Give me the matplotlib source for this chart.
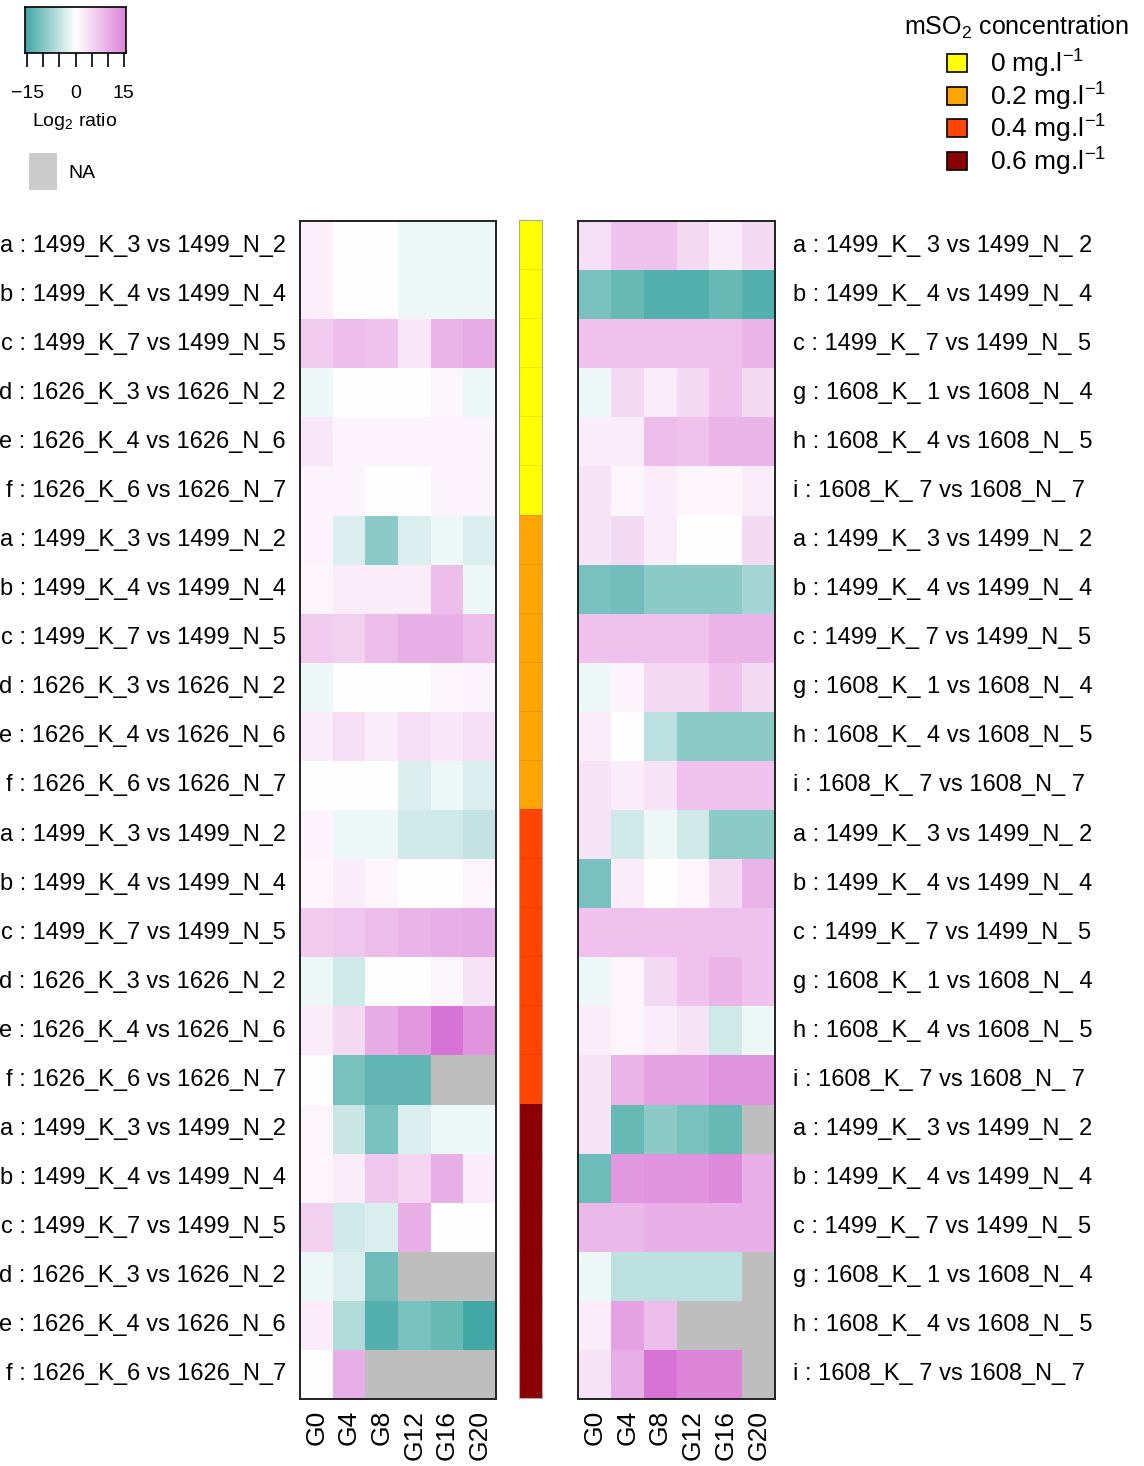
import numpy as np
import matplotlib
matplotlib.use("Agg")
import matplotlib.pyplot as plt
from matplotlib.colors import LinearSegmentedColormap, ListedColormap
from matplotlib.patches import Rectangle

plt.rcParams["font.family"] = ["Liberation Sans", "DejaVu Sans"]
plt.rcParams["mathtext.fontset"] = "custom"
plt.rcParams["mathtext.rm"] = "Liberation Sans"
plt.rcParams["mathtext.it"] = "Liberation Sans:italic"
plt.rcParams["mathtext.bf"] = "Liberation Sans:bold"

# =============================
# Dados
# =============================
colunas = ["G0", "G4", "G8", "G12", "G16", "G20"]

rotulos_esq = ["a : 1499_K_3 vs 1499_N_2", "b : 1499_K_4 vs 1499_N_4", "c : 1499_K_7 vs 1499_N_5",
               "d : 1626_K_3 vs 1626_N_2", "e : 1626_K_4 vs 1626_N_6", "f : 1626_K_6 vs 1626_N_7"] * 4
rotulos_dir = ["a : 1499_K_ 3 vs 1499_N_ 2", "b : 1499_K_ 4 vs 1499_N_ 4", "c : 1499_K_ 7 vs 1499_N_ 5",
               "g : 1608_K_ 1 vs 1608_N_ 4", "h : 1608_K_ 4 vs 1608_N_ 5", "i : 1608_K_ 7 vs 1608_N_ 7"] * 4

concentracoes = ["0 mg.l$^{-1}$", "0.2 mg.l$^{-1}$", "0.4 mg.l$^{-1}$", "0.6 mg.l$^{-1}$"]
cores_conc = ["#ffff00", "#ffa500", "#ff4500", "#8b0000"]
nivel_conc = [0] * 6 + [1] * 6 + [2] * 6 + [3] * 6

na = np.nan
valores_esq = [
    # 0 mg/l
    [1.5, 0, 0, -1.5, -1.5, -1.5],
    [1.5, 0, 0, -1.5, -1.5, -1.5],
    [5.5, 7, 6.5, 2.5, 8, 9],
    [-1.5, 0, 0, 0, 1, -1.5],
    [2.5, 1.2, 1.2, 1.2, 1.2, 1.2],
    [1.2, 1.2, 0, 0, 1.2, 1.2],
    # 0.2 mg/l
    [1.2, -3, -9.5, -3, -1.5, -3],
    [1, 2, 2, 2, 7, -1.5],
    [5.5, 5, 7, 8.5, 8.5, 7],
    [-1.5, 0, 0, 0, 1, 1.2],
    [2, 3.5, 2, 3.5, 2.5, 3.5],
    [0, 0, 0, -3, -1.5, -3],
    # 0.4 mg/l
    [1.2, -1.5, -1.5, -4, -4, -5],
    [0.8, 2, 1, 0, 0, 1],
    [5.5, 6, 7, 8, 8.5, 9],
    [-1.5, -4, 0, 0, 1, 3],
    [2, 4, 9, 11, 15, 11.5],
    [0, -11, -13, -13, na, na],
    # 0.6 mg/l
    [1, -4.5, -11, -3, -1.5, -1.5],
    [1, 2, 6, 4.5, 8.5, 2],
    [5, -4, -3, 8.5, 0, 0],
    [-1.5, -3, -12, na, na, na],
    [2, -6.5, -14, -11, -12.5, -15.5],
    [0, 8.5, na, na, na, na],
]

valores_dir = [
    # 0 mg/l
    [3.5, 6.5, 6.5, 4, 2, 4],
    [-11, -12.5, -14, -14, -12.5, -14],
    [6.5, 6.5, 6.5, 6.5, 6.5, 8],
    [-1.5, 4, 2, 4, 6.5, 4],
    [2, 2, 7, 6.5, 8, 8],
    [3, 1, 2, 1, 1, 2],
    # 0.2 mg/l
    [3, 4, 2, 0, 0, 4],
    [-11, -11.5, -9.5, -9.5, -9.5, -7.5],
    [6.5, 6.5, 6.5, 6.5, 8, 8],
    [-1.5, 1.2, 4, 4, 6.5, 4],
    [2, 0, -5.5, -9.5, -9.5, -9.5],
    [3, 2, 3, 6.5, 6.5, 6.5],
    # 0.4 mg/l
    [3, -4, -1.5, -4, -9.5, -9.5],
    [-11, 2, 0, 1, 4, 8],
    [6.5, 6.5, 6.5, 6.5, 6.5, 6.5],
    [-1.5, 1, 4, 6.5, 8, 6.5],
    [2, 1, 2, 3, -4, -1.5],
    [3, 8, 10, 10, 11.5, 11.5],
    # 0.6 mg/l
    [3, -12.5, -9.5, -11, -12.5, na],
    [-12, 11, 11.5, 11.5, 12.5, 8.5],
    [7.5, 7.5, 8.5, 8.5, 8.5, 8.5],
    [-1.5, -5.5, -5.5, -5.5, -5.5, na],
    [2, 10, 7, na, na, na],
    [3, 8.5, 15, 13, 13, na],
]

# =============================
# Cores
# =============================
cmap = LinearSegmentedColormap.from_list("log2", ["#3ca5a2", "#ffffff", "#d56bd1"])
cmap.set_bad("#bebebe")
vmin, vmax = -16, 16

W, H = 1144, 1466
fig = plt.figure(figsize=(W / 100, H / 100), dpi=100)


def caixa(x0, y0, x1, y1):
    # converte pixels (origem no topo) para coordenadas da figura
    return [x0 / W, 1 - y1 / H, (x1 - x0) / W, (y1 - y0) / H]


def desenhar_heatmap(ax, valores, rotulos, lado):
    dados = np.ma.masked_invalid(np.array(valores, dtype=float))
    ax.pcolormesh(dados, cmap=cmap, vmin=vmin, vmax=vmax)
    ax.set_xlim(0, len(colunas))
    ax.set_ylim(len(rotulos), 0)
    ax.set_xticks(np.arange(len(colunas)) + 0.5)
    ax.set_xticklabels(colunas, rotation=90, fontsize=19)
    ax.set_yticks(np.arange(len(rotulos)) + 0.5)
    ax.set_yticklabels(rotulos, fontsize=17)
    ax.tick_params(length=0)
    ax.tick_params(axis="x", pad=8)
    if lado == "right":
        ax.yaxis.tick_right()
        ax.tick_params(axis="y", pad=13)
    else:
        ax.tick_params(axis="y", pad=10)
    for tk in ax.yaxis.get_major_ticks():
        tk.label1.set_verticalalignment("center")
        tk.label2.set_verticalalignment("center")
    for s in ax.spines.values():
        s.set_linewidth(1.4)
        s.set_color("#222222")


ax_esq = fig.add_axes(caixa(300, 221, 496, 1399))
desenhar_heatmap(ax_esq, valores_esq, rotulos_esq, "left")

ax_dir = fig.add_axes(caixa(578, 221, 775, 1399))
desenhar_heatmap(ax_dir, valores_dir, rotulos_dir, "right")

# barra de concentracao
ax_c = fig.add_axes(caixa(519, 220, 542, 1398))
ax_c.pcolormesh(np.array(nivel_conc).reshape(-1, 1), cmap=ListedColormap(cores_conc),
                vmin=-0.5, vmax=3.5, edgecolors="#00000018", linewidth=0.6)
ax_c.set_ylim(len(nivel_conc), 0)
ax_c.set_xticks([])
ax_c.set_yticks([])
for s in ax_c.spines.values():
    s.set_linewidth(0.8)
    s.set_color("#aaaaaa")

# =============================
# Legenda Log2 ratio
# =============================
ax_leg = fig.add_axes(caixa(25, 7, 126, 53))
grad = np.linspace(-15.75, 15.75, 256).reshape(1, -1)
cmap_leg = LinearSegmentedColormap.from_list("leg", ["#3fa6a3", "#ffffff", "#dc84d8"])
ax_leg.imshow(grad, cmap=cmap_leg, vmin=-15.75, vmax=15.75, aspect="auto", extent=(-15.75, 15.75, 0, 1))
ax_leg.set_yticks([])
ax_leg.set_xticks([-15, -10, -5, 0, 5, 10, 15])
ax_leg.set_xticklabels(["\u221215", "", "", "0", "", "", "15"], fontsize=14)
ax_leg.tick_params(axis="x", direction="out", length=10, width=1.2, pad=13)
for s in ax_leg.spines.values():
    s.set_linewidth(1.2)

fig.text(75 / W, 1 - 121 / H, "Log$_2$ ratio", ha="center", va="center", fontsize=14)
fig.patches.append(Rectangle((29 / W, 1 - 190 / H), 28 / W, 37 / H, transform=fig.transFigure,
                             facecolor="#cbcbcb", edgecolor="none"))
fig.text(68 / W, 1 - 173 / H, "NA", ha="left", va="center", fontsize=14)

# =============================
# Legenda concentracao
# =============================
fig.text(1017 / W, 1 - 27 / H, "mSO$_2$ concentration", ha="center", va="center", fontsize=18)
ys = [63, 96, 128, 161]
for y, cor, txt in zip(ys, cores_conc, concentracoes):
    fig.patches.append(Rectangle((947 / W, 1 - (y + 9) / H), 20 / W, 18 / H, transform=fig.transFigure,
                                 facecolor=cor, edgecolor="black", linewidth=1.2))
    fig.text(990 / W, 1 - (y + 1) / H, txt, ha="left", va="center", fontsize=19)

fig.savefig("out.png", dpi=100)
